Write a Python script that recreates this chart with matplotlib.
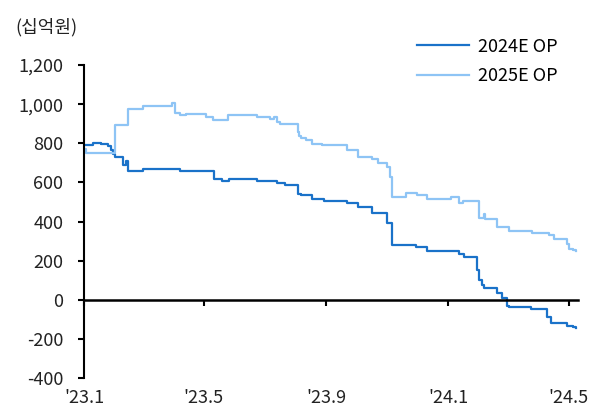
import matplotlib
matplotlib.use('Agg')
import matplotlib.pyplot as plt
import pandas as pd

plt.rcParams['font.family'] = ['Noto Sans CJK KR', 'DejaVu Sans']

# 2024E OP consensus (KRW bn), step changes
op24_dates = ['2023-01-01', '2023-01-10', '2023-01-18', '2023-01-25', '2023-01-28', '2023-01-30',
              '2023-02-01', '2023-02-09', '2023-02-12', '2023-02-14', '2023-03-01', '2023-04-07',
              '2023-05-11', '2023-05-19', '2023-05-26', '2023-06-23', '2023-07-13', '2023-07-21',
              '2023-08-04', '2023-08-07', '2023-08-18', '2023-08-30', '2023-09-22', '2023-10-03',
              '2023-10-17', '2023-11-01', '2023-11-06', '2023-11-30', '2023-12-11', '2024-01-12',
              '2024-01-17', '2024-01-30', '2024-02-01', '2024-02-04', '2024-02-06', '2024-02-19',
              '2024-02-24', '2024-02-29', '2024-03-02', '2024-03-24', '2024-04-09', '2024-04-13',
              '2024-04-29', '2024-05-05', '2024-05-08']
op24 = [790, 802, 795, 787, 765, 746,
        730, 690, 710, 660, 670, 660,
        618, 608, 618, 608, 598, 588,
        542, 537, 516, 506, 496, 475,
        445, 394, 281, 271, 250, 235,
        220, 150, 100, 75, 61, 36,
        10, -30, -36, -46, -90, -118,
        -133, -140, -145]

# 2025E OP consensus (KRW bn)
op25_dates = ['2023-01-01', '2023-01-03', '2023-02-01', '2023-02-14', '2023-03-01', '2023-03-30',
              '2023-04-02', '2023-04-07', '2023-04-13', '2023-05-03', '2023-05-10', '2023-05-25',
              '2023-06-23', '2023-07-06', '2023-07-10', '2023-07-13', '2023-07-16', '2023-08-04',
              '2023-08-05', '2023-08-07', '2023-08-12', '2023-08-18', '2023-08-28', '2023-09-22',
              '2023-10-03', '2023-10-17', '2023-10-23', '2023-11-01', '2023-11-04', '2023-11-06',
              '2023-11-20', '2023-12-01', '2023-12-11', '2024-01-04', '2024-01-12', '2024-01-16',
              '2024-02-01', '2024-02-06', '2024-02-07', '2024-02-19', '2024-03-02', '2024-03-25',
              '2024-04-11', '2024-04-16', '2024-04-29', '2024-05-01', '2024-05-05', '2024-05-08']
op25 = [770, 750, 895, 975, 990, 1005,
        955, 945, 950, 935, 920, 945,
        935, 925, 935, 910, 900, 860,
        838, 828, 818, 797, 792, 767,
        730, 721, 700, 680, 629, 526,
        547, 536, 516, 526, 496, 506,
        419, 440, 414, 373, 353, 343,
        333, 312, 285, 260, 255, 250]

tick_dates = ['2023-01-01', '2023-05-01', '2023-09-01', '2024-01-01', '2024-05-01']
tick_labels = ["'23.1", "'23.5", "'23.9", "'24.1", "'24.5"]

fig = plt.figure(figsize=(6, 4.12), dpi=100)
ax = fig.add_axes([0.14, 0.0825, 0.823, 0.7595])

ax.plot(pd.to_datetime(op24_dates), op24, drawstyle='steps-post', color='#1a72c9', lw=1.6, label='2024E OP')
ax.plot(pd.to_datetime(op25_dates), op25, drawstyle='steps-post', color='#8ec4f5', lw=1.6, label='2025E OP')

ax.set_ylim(-400, 1200)
ax.set_yticks(range(-400, 1201, 200))
ax.set_yticklabels([f'{v:,}' for v in range(-400, 1201, 200)], fontsize=13, color='#222222')
ax.set_xlim(pd.Timestamp('2023-01-01'), pd.Timestamp('2024-05-10'))

for s in ['top', 'right']:
    ax.spines[s].set_visible(False)
ax.spines['left'].set_linewidth(1.5)
ax.spines['bottom'].set_position(('data', 0))
ax.spines['bottom'].set_linewidth(1.8)

ticks = pd.to_datetime(tick_dates)
ax.set_xticks(ticks)
ax.tick_params(axis='x', direction='out', length=4, width=1.5, labelbottom=False)
ax.tick_params(axis='y', direction='out', length=4, width=1.5, pad=11)
for t, lab in zip(ticks, tick_labels):
    ax.text(t, -0.064, lab, transform=ax.get_xaxis_transform(), ha='center', va='center',
            fontsize=13, color='#222222')

fig.text(0.025, 0.935, '(십억원)', fontsize=13, color='#222222', va='center')

ax.legend(loc='upper left', bbox_to_anchor=(0.668, 0.948), bbox_transform=fig.transFigure,
          frameon=False, fontsize=13, handlelength=2.9, handletextpad=0.5, labelspacing=0.65)

fig.savefig('out.png', dpi=100)
plt.close(fig)
